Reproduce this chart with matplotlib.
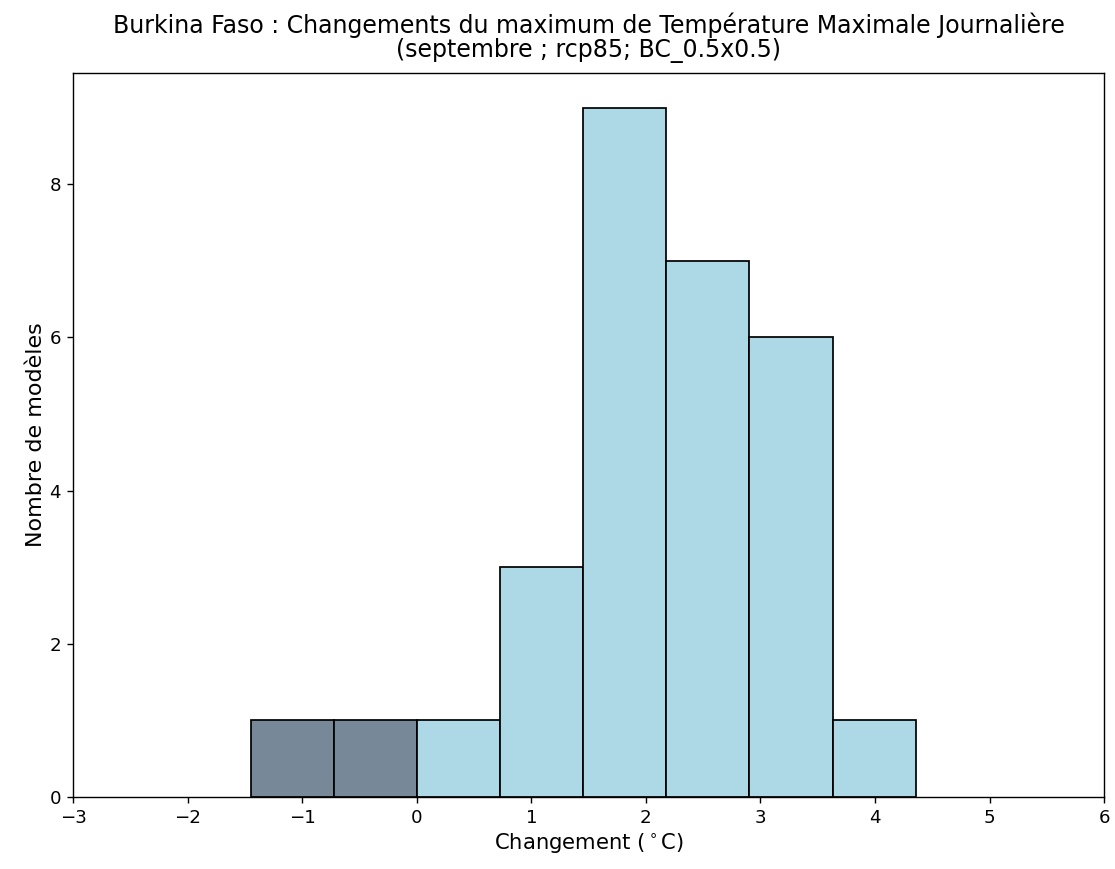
import matplotlib
matplotlib.use("Agg")
import matplotlib.pyplot as plt
import numpy as np

# bin edges (degC) and number of models per bin
bin_edges = [-1.45, -0.725, 0.0, 0.725, 1.45, 2.175, 2.9, 3.63, 4.355]
counts = [1, 1, 1, 3, 9, 7, 6, 1]

title = ("Burkina Faso : Changements du maximum de Température Maximale Journalière\n"
         "(septembre ; rcp85; BC_0.5x0.5)")

edges = np.array(bin_edges)
widths = np.diff(edges)
colors = ['lightslategray' if e < 0 else 'lightblue' for e in edges[:-1]]

fig = plt.figure(figsize=(8.92, 6.952), dpi=125)
ax = fig.add_axes([0.0655, 0.0829, 0.9247, 0.833])

ax.bar(edges[:-1], counts, width=widths, align='edge', color=colors,
       edgecolor='black', linewidth=1.0)

ax.set_xlim(-3, 6)
ax.set_ylim(0, 9.45)
ax.set_xticks(range(-3, 7))
ax.set_yticks([0, 2, 4, 6, 8])
ax.tick_params(labelsize=10.5)
ax.set_xlabel(r"Changement ($^\circ$C)", fontsize=12.2, labelpad=2)
ax.set_ylabel("Nombre de modèles", fontsize=12.8, labelpad=2)
ax.set_title(title, fontsize=13.6, pad=9, linespacing=1.05)

fig.savefig("out.png", dpi=125)
